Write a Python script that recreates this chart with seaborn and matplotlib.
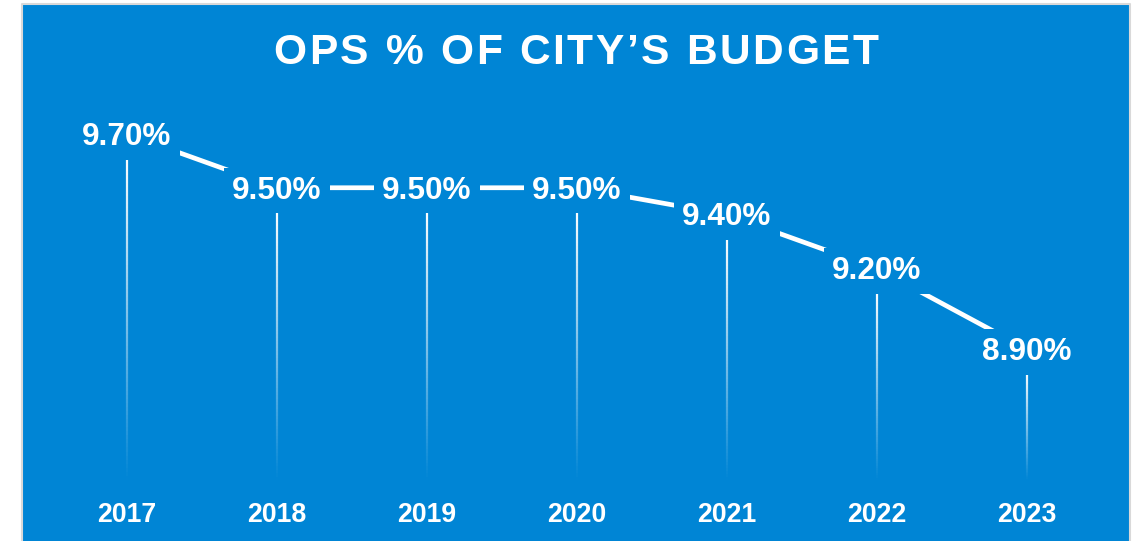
import numpy as np
import pandas as pd
import matplotlib
matplotlib.use("Agg")
import matplotlib.pyplot as plt
import seaborn as sns
from matplotlib import font_manager, ft2font
from matplotlib.collections import LineCollection
from matplotlib.lines import Line2D
import matplotlib.transforms as mtransforms

# ---- data ----
years = ["2017", "2018", "2019", "2020", "2021", "2022", "2023"]
values = [9.70, 9.50, 9.50, 9.50, 9.40, 9.20, 8.90]
value_labels = ["9.70%", "9.50%", "9.50%", "9.50%", "9.40%", "9.20%", "8.90%"]
title = "OPS % OF CITY\u2019S BUDGET"

BLUE = "#0085D5"
W, H, DPI = 1135, 541, 100

sns.set_theme(style="white")
plt.rcParams["font.family"] = ["Liberation Sans", "DejaVu Sans"]

fig = plt.figure(figsize=(W / DPI, H / DPI), dpi=DPI, facecolor="white")

# blue panel geometry (pixels)
px_left, px_right, px_top = 22, 1130, 4
ax = fig.add_axes([px_left / W, 0, (px_right - px_left) / W, (H - px_top) / H])
ax.set_facecolor(BLUE)

df = pd.DataFrame({"pos": np.arange(len(years)), "value": values, "year": years})

sns.lineplot(data=df, x="pos", y="value", ax=ax, color="white", linewidth=3.4,
             solid_capstyle="butt", zorder=2, legend=False)

ax.set_xlim(-0.7, 6.687)
ax.set_ylim(8.187, 10.183)
ax.set_xticks([])
ax.set_yticks([])
ax.set_xlabel("")
ax.set_ylabel("")
for s in ax.spines.values():
    s.set_visible(False)

# gradient drop lines
fig.canvas.draw()
px_per_unit = (ax.transData.transform((0, 1))[1] - ax.transData.transform((0, 0))[1])
bottom_val = ax.transData.inverted().transform(
    ax.transAxes.transform((0, (H - 480) / (H - px_top))))[1]
segs, cols = [], []
nseg = 80
for i, v in enumerate(values):
    top = v - 21 / px_per_unit
    ys = np.linspace(top, bottom_val, nseg + 1)
    for k in range(nseg):
        segs.append([(i, ys[k]), (i, ys[k + 1])])
        a = 1.0 - (k + 0.5) / nseg
        cols.append((1, 1, 1, a))
lc = LineCollection(segs, colors=cols, linewidths=1.6, zorder=1)
ax.add_collection(lc)

# value labels
for i, (v, lab) in enumerate(zip(values, value_labels)):
    ax.annotate(lab, xy=(i, v), xytext=(0, -7.8), textcoords="offset points",
                ha="center", va="baseline", fontsize=22.7, fontweight="bold",
                color="white", zorder=5,
                bbox=dict(boxstyle="square,pad=0.25", fc=BLUE, ec="none"))

# year labels
trans = mtransforms.blended_transform_factory(ax.transData, ax.transAxes)
for i, y in enumerate(years):
    ax.text(i, (H - 522.3) / (H - px_top), y, transform=trans, ha="center",
            va="baseline", fontsize=19.2, fontweight="bold", color="white")

# title with letter spacing
tsize = 30.6
fp = font_manager.FontProperties(family="Liberation Sans", weight="bold", size=tsize)
font = ft2font.FT2Font(font_manager.findfont(fp))
font.set_size(tsize, DPI)
adv = [font.load_char(ord(c)).linearHoriAdvance / 65536 for c in title]
spacing = 2.6
total = sum(adv) + spacing * (len(title) - 1)
cx = 576
x = cx - total / 2
for c, a in zip(title, adv):
    if c != " ":
        fig.text((x + a / 2) / W, 1 - 64 / H, c, ha="center", va="baseline",
                 fontsize=tsize, fontweight="bold", color="white",
                 fontfamily="Liberation Sans")
    x += a + spacing

# light gray frame (left, top, right) around the panel
fx0, fx1, fy1 = px_left / W, px_right / W, 1 - px_top / H
fig.lines.append(Line2D([fx0, fx0, fx1, fx1], [0, fy1, fy1, 0],
                        transform=fig.transFigure, color="#D9D9D9", lw=1.5,
                        zorder=10))

fig.savefig("out.png", dpi=DPI, facecolor="white")
